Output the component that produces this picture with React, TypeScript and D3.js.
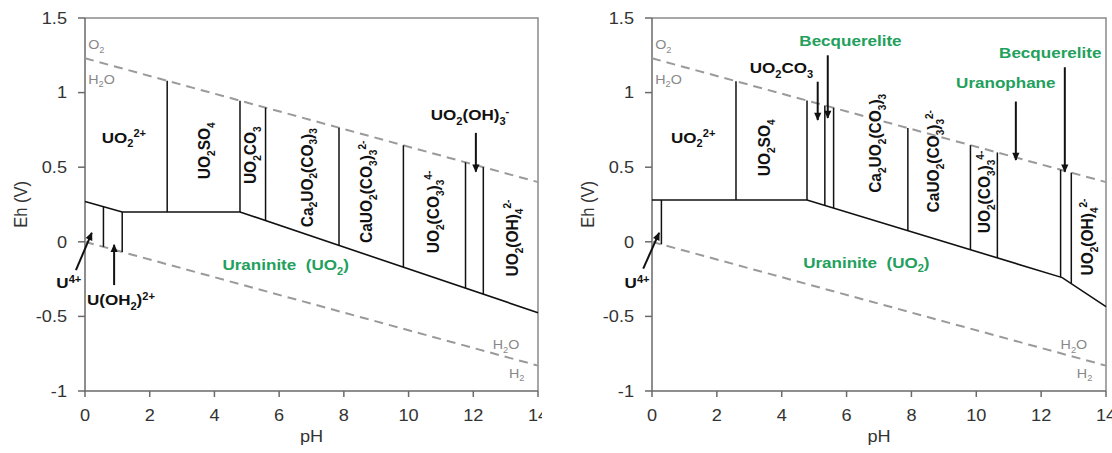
import React from 'react';
import * as d3 from 'd3';

type Pt = [number, number];
type Part = [string, 'n' | 'b' | 'p'];

// axis ticks
const PH_TICKS = [0, 2, 4, 6, 8, 10, 12, 14];
const EH_TICKS = [-1, -0.5, 0, 0.5, 1, 1.5];

// water stability limits (pH, Eh)
const WATER_OX: Pt[] = [[0, 1.23], [14, 0.4]];
const WATER_RED: Pt[] = [[0, 0], [14, -0.83]];

// left diagram: uraninite upper boundary and species dividers (pH)
const LEFT_BOUNDARY: Pt[] = [[0, 0.27], [1.15, 0.2], [4.79, 0.2], [14, -0.475]];
const LEFT_LOWER_SPLITS = [0.57, 1.15];
const LEFT_UPPER_SPLITS = [2.54, 4.79, 5.58, 7.85, 9.84, 11.76, 12.31];

// right diagram
const RIGHT_BOUNDARY: Pt[] = [[0, 0.28], [4.78, 0.28], [12.65, -0.24], [14, -0.435]];
const RIGHT_LOWER_SPLITS = [0.29];
const RIGHT_UPPER_SPLITS = [2.59, 4.78, 5.33, 5.6, 7.89, 9.82, 10.65, 12.6, 12.93];

// species names
const UO2_2P: Part[] = [['UO', 'n'], ['2', 'b'], ['2+', 'p']];
const UO2SO4: Part[] = [['UO', 'n'], ['2', 'b'], ['SO', 'n'], ['4', 'b']];
const UO2CO3: Part[] = [['UO', 'n'], ['2', 'b'], ['CO', 'n'], ['3', 'b']];
const CA2UO2CO3: Part[] = [['Ca', 'n'], ['2', 'b'], ['UO', 'n'], ['2', 'b'], ['(CO', 'n'], ['3', 'b'], [')', 'n'], ['3', 'b']];
const CAUO2CO3: Part[] = [['CaUO', 'n'], ['2', 'b'], ['(CO', 'n'], ['3', 'b'], [')', 'n'], ['3', 'b'], ['2-', 'p']];
const UO2CO3_4M: Part[] = [['UO', 'n'], ['2', 'b'], ['(CO', 'n'], ['3', 'b'], [')', 'n'], ['3', 'b'], ['4-', 'p']];
const UO2OH4: Part[] = [['UO', 'n'], ['2', 'b'], ['(OH)', 'n'], ['4', 'b'], ['2-', 'p']];
const UO2OH3: Part[] = [['UO', 'n'], ['2', 'b'], ['(OH)', 'n'], ['3', 'b'], ['-', 'p']];
const U4P: Part[] = [['U', 'n'], ['4+', 'p']];
const UOH2: Part[] = [['U(OH', 'n'], ['2', 'b'], [')', 'n'], ['2+', 'p']];
const URANINITE: Part[] = [['Uraninite  (UO', 'n'], ['2', 'b'], [')', 'n']];
const BECQ: Part[] = [['Becquerelite', 'n']];
const URANOPHANE: Part[] = [['Uranophane', 'n']];
const O2: Part[] = [['O', 'n'], ['2', 'b']];
const H2O: Part[] = [['H', 'n'], ['2', 'b'], ['O', 'n']];
const H2: Part[] = [['H', 'n'], ['2', 'b']];

type Lbl = { parts: Part[]; at: Pt; rot?: boolean; green?: boolean };
type Arrow = [Pt, Pt];

const LEFT_LABELS: Lbl[] = [
  { parts: UO2_2P, at: [1.2, 0.7] },
  { parts: UO2SO4, at: [3.68, 0.61], rot: true },
  { parts: UO2CO3, at: [5.1, 0.58], rot: true },
  { parts: CA2UO2CO3, at: [6.85, 0.43], rot: true },
  { parts: CAUO2CO3, at: [8.7, 0.335], rot: true },
  { parts: UO2CO3_4M, at: [10.75, 0.2], rot: true },
  { parts: UO2OH4, at: [13.19, 0.025], rot: true },
  { parts: URANINITE, at: [6.2, -0.155], green: true },
  { parts: U4P, at: [-0.5, -0.276] },
  { parts: UOH2, at: [1.11, -0.39] },
  { parts: UO2OH3, at: [11.9, 0.85] },
];
const LEFT_ARROWS: Arrow[] = [
  [[-0.28, -0.19], [0.21, 0.06]],
  [[0.9, -0.29], [0.9, -0.02]],
  [[12.08, 0.73], [12.08, 0.47]],
];

const RIGHT_LABELS: Lbl[] = [
  { parts: UO2_2P, at: [1.27, 0.7] },
  { parts: UO2SO4, at: [3.46, 0.63], rot: true },
  { parts: CA2UO2CO3, at: [6.88, 0.66], rot: true },
  { parts: CAUO2CO3, at: [8.68, 0.54], rot: true },
  { parts: UO2CO3_4M, at: [10.25, 0.334], rot: true },
  { parts: UO2OH4, at: [13.43, 0.032], rot: true },
  { parts: URANINITE, at: [6.61, -0.14], green: true },
  { parts: U4P, at: [-0.46, -0.276] },
  { parts: UO2CO3, at: [3.99, 1.165] },
  { parts: BECQ, at: [6.12, 1.35], green: true },
  { parts: URANOPHANE, at: [10.91, 1.064], green: true },
  { parts: BECQ, at: [12.28, 1.27], green: true },
];
const RIGHT_ARROWS: Arrow[] = [
  [[-0.27, -0.18], [0.22, 0.06]],
  [[5.11, 1.073], [5.11, 0.816]],
  [[5.42, 1.25], [5.42, 0.83]],
  [[11.22, 0.94], [11.22, 0.548]],
  [[12.73, 1.17], [12.73, 0.47]],
];

const W = 1112;
const H = 453;
const Y_TOP = 18;
const Y_BOT = 391;
const FONT = '"Liberation Sans", Arial, sans-serif';
const GREEN = '#22a05c';
const GRAY = '#9a9a9a';
const STRETCH = 1.1;
const TICK_SIZE = 16.5;

function Rich({ parts, x, y, size, bold = true, fill = '#111', rot = false, anchor = 'middle' }: {
  parts: Part[]; x: number; y: number; size: number; bold?: boolean; fill?: string; rot?: boolean; anchor?: string;
}) {
  let cur = 0;
  const tf = `translate(${x},${y}) scale(${STRETCH},1)` + (rot ? ' rotate(-90)' : '');
  return (
    <text transform={tf} y={size * 0.35} textAnchor={anchor} fontFamily={FONT} fontSize={size}
      fontWeight={bold ? 'bold' : 'normal'} fill={fill} style={{ whiteSpace: 'pre' }}>
      {parts.map(([t, k], i) => {
        const target = k === 'b' ? size * 0.28 : k === 'p' ? -size * 0.38 : 0;
        const dy = target - cur;
        cur = target;
        return (
          <tspan key={i} dy={dy} fontSize={k === 'n' ? size : size * 0.65}>{t}</tspan>
        );
      })}
    </text>
  );
}

function Panel({ id, x0, x1, boundary, lower, upper, labels, arrows, clip }: {
  id: string; x0: number; x1: number; boundary: Pt[]; lower: number[]; upper: number[];
  labels: Lbl[]; arrows: Arrow[]; clip?: number;
}) {
  const x = d3.scaleLinear().domain([0, 14]).range([x0, x1]);
  const y = d3.scaleLinear().domain([-1, 1.5]).range([Y_BOT, Y_TOP]);
  const line = d3.line<Pt>().x(d => x(d[0])).y(d => y(d[1]));
  const bnd = d3.scaleLinear().domain(boundary.map(d => d[0])).range(boundary.map(d => d[1]));
  const ox = d3.scaleLinear().domain(WATER_OX.map(d => d[0])).range(WATER_OX.map(d => d[1]));
  const red = d3.scaleLinear().domain(WATER_RED.map(d => d[0])).range(WATER_RED.map(d => d[1]));

  const body = (
    <g>
      {/* frame */}
      <path d={`M${x0},${Y_TOP}H${x1}V${Y_BOT}`} fill="none" stroke="#8a8a8a" strokeWidth={1.5} />
      <path d={`M${x0},${Y_TOP}V${Y_BOT}H${x1}`} fill="none" stroke="#6a6a6a" strokeWidth={1.5} />
      {EH_TICKS.map(t => (
        <g key={'y' + t}>
          <line x1={x0 - 7} x2={x0} y1={y(t)} y2={y(t)} stroke="#6a6a6a" strokeWidth={1.5} />
          <Rich parts={[[String(t), 'n']]} x={x0 - 18} y={y(t)} size={TICK_SIZE} bold={false} fill="#333" anchor="end" />
        </g>
      ))}
      {PH_TICKS.map(t => (
        <g key={'x' + t}>
          <line x1={x(t)} x2={x(t)} y1={Y_BOT} y2={Y_BOT + 6} stroke="#6a6a6a" strokeWidth={1.5} />
          <Rich parts={[[String(t), 'n']]} x={x(t)} y={415} size={TICK_SIZE} bold={false} fill="#333" />
        </g>
      ))}
      <Rich parts={[['pH', 'n']]} x={(x0 + x1) / 2} y={436} size={TICK_SIZE} bold={false} fill="#333" />
      <Rich parts={[['Eh (V)', 'n']]} x={x0 - 64} y={(Y_TOP + Y_BOT) / 2} size={TICK_SIZE} bold={false} fill="#333" rot />

      {/* water lines */}
      <path d={line(WATER_OX) || ''} fill="none" stroke={GRAY} strokeWidth={2} strokeDasharray="9,6" />
      <path d={line(WATER_RED) || ''} fill="none" stroke={GRAY} strokeWidth={2} strokeDasharray="9,6" />
      <Rich parts={O2} x={x(0.1)} y={y(1.32)} size={13} bold={false} fill="#888" anchor="start" />
      <Rich parts={H2O} x={x(0.1)} y={y(1.09)} size={13} bold={false} fill="#888" anchor="start" />
      <Rich parts={H2O} x={x(12.6)} y={y(-0.69)} size={13} bold={false} fill="#888" anchor="start" />
      <Rich parts={H2} x={x(13.1)} y={y(-0.88)} size={13} bold={false} fill="#888" anchor="start" />

      {/* field boundaries */}
      <path d={line(boundary) || ''} fill="none" stroke="#111" strokeWidth={1.6} />
      {lower.map(p => (
        <line key={'l' + p} x1={x(p)} x2={x(p)} y1={y(bnd(p))} y2={y(red(p))} stroke="#111" strokeWidth={1.5} />
      ))}
      {upper.map(p => (
        <line key={'u' + p} x1={x(p)} x2={x(p)} y1={y(bnd(p))} y2={y(ox(p))} stroke="#111" strokeWidth={1.5} />
      ))}

      {arrows.map(([a, b], i) => (
        <line key={'a' + i} x1={x(a[0])} y1={y(a[1])} x2={x(b[0])} y2={y(b[1])} stroke="#111" strokeWidth={2}
          markerEnd="url(#ah)" />
      ))}
      {labels.map((l, i) => (
        <Rich key={'t' + i} parts={l.parts} x={x(l.at[0])} y={y(l.at[1])} size={15.5} rot={l.rot}
          fill={l.green ? GREEN : '#111'} />
      ))}
    </g>
  );

  if (clip === undefined) return body;
  return (
    <g>
      <clipPath id={id}><rect x={0} y={0} width={clip} height={H} /></clipPath>
      <g clipPath={`url(#${id})`}>{body}</g>
    </g>
  );
}

export default function App() {
  return (
    <svg width={W} height={H} viewBox={`0 0 ${W} ${H}`}
      style={{ position: 'absolute', left: 0, top: 0, background: '#fff' }}>
      <defs>
        <marker id="ah" viewBox="0 0 10 10" refX={9} refY={5} markerWidth={9} markerHeight={8}
          markerUnits="userSpaceOnUse" orient="auto">
          <path d="M0,0.5 L10,5 L0,9.5 z" fill="#111" />
        </marker>
      </defs>
      <rect width={W} height={H} fill="#fff" />
      <Panel id="clipL" x0={85} x1={538} boundary={LEFT_BOUNDARY} lower={LEFT_LOWER_SPLITS}
        upper={LEFT_UPPER_SPLITS} labels={LEFT_LABELS} arrows={LEFT_ARROWS} clip={542} />
      <Panel id="clipR" x0={652} x1={1106} boundary={RIGHT_BOUNDARY} lower={RIGHT_LOWER_SPLITS}
        upper={RIGHT_UPPER_SPLITS} labels={RIGHT_LABELS} arrows={RIGHT_ARROWS} />
    </svg>
  );
}
